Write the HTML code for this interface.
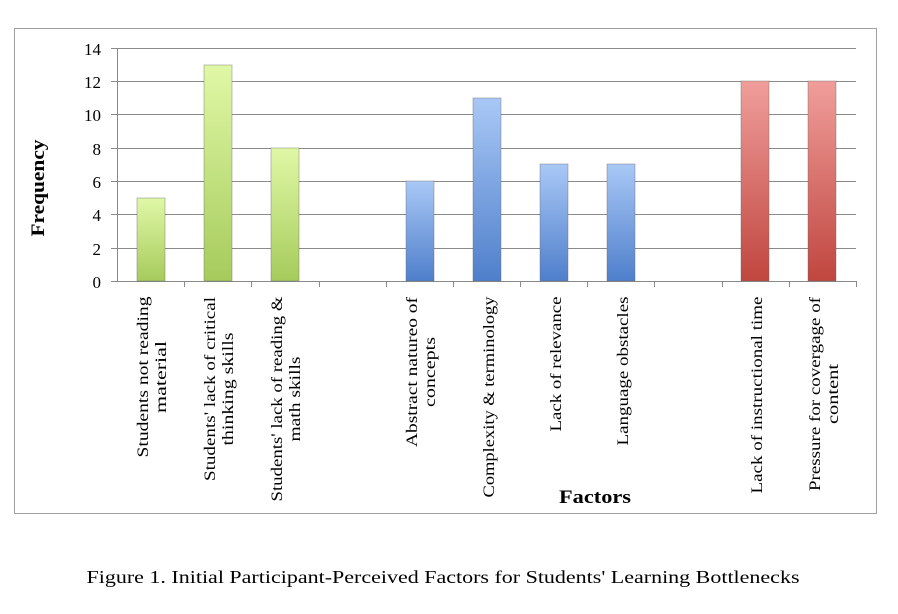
<!DOCTYPE html>
<html><head><meta charset="utf-8"><style>body{margin:0;background:#fff}svg{display:block}</style></head><body>
<svg width="898" height="614" xmlns="http://www.w3.org/2000/svg" font-family="'Liberation Serif',serif">
<defs>
<linearGradient id="g" x1="0" y1="0" x2="0" y2="1"><stop offset="0" stop-color="#e0f8a6"/><stop offset="1" stop-color="#a6cb5c"/></linearGradient>
<linearGradient id="b" x1="0" y1="0" x2="0" y2="1"><stop offset="0" stop-color="#a9c8f6"/><stop offset="1" stop-color="#4f7fcb"/></linearGradient>
<linearGradient id="r" x1="0" y1="0" x2="0" y2="1"><stop offset="0" stop-color="#f09e9b"/><stop offset="1" stop-color="#c0463f"/></linearGradient>
</defs>
<rect x="14.5" y="28.5" width="862" height="485" fill="#fff" stroke="#a0a0a0"/>
<g stroke="#8a8a8a" stroke-width="1">
<line x1="117" y1="48.5" x2="856" y2="48.5"/><line x1="117" y1="81.5" x2="856" y2="81.5"/><line x1="117" y1="114.5" x2="856" y2="114.5"/><line x1="117" y1="148.5" x2="856" y2="148.5"/><line x1="117" y1="181.5" x2="856" y2="181.5"/><line x1="117" y1="214.5" x2="856" y2="214.5"/><line x1="117" y1="248.5" x2="856" y2="248.5"/><line x1="111" y1="281.5" x2="856" y2="281.5"/>
<line x1="117.5" y1="48" x2="117.5" y2="281"/>
<line x1="111" y1="48.5" x2="117" y2="48.5"/><line x1="111" y1="81.5" x2="117" y2="81.5"/><line x1="111" y1="114.5" x2="117" y2="114.5"/><line x1="111" y1="148.5" x2="117" y2="148.5"/><line x1="111" y1="181.5" x2="117" y2="181.5"/><line x1="111" y1="214.5" x2="117" y2="214.5"/><line x1="111" y1="248.5" x2="117" y2="248.5"/>
<line x1="184.5" y1="281" x2="184.5" y2="287"/><line x1="251.5" y1="281" x2="251.5" y2="287"/><line x1="319.5" y1="281" x2="319.5" y2="287"/><line x1="386.5" y1="281" x2="386.5" y2="287"/><line x1="453.5" y1="281" x2="453.5" y2="287"/><line x1="520.5" y1="281" x2="520.5" y2="287"/><line x1="587.5" y1="281" x2="587.5" y2="287"/><line x1="654.5" y1="281" x2="654.5" y2="287"/><line x1="722.5" y1="281" x2="722.5" y2="287"/><line x1="789.5" y1="281" x2="789.5" y2="287"/><line x1="856.5" y1="281" x2="856.5" y2="287"/>
</g>
<g stroke-opacity="0.4" stroke="#666">
<rect x="137" y="198" width="28" height="83" fill="url(#g)"/>
<rect x="204" y="65" width="28" height="216" fill="url(#g)"/>
<rect x="271" y="148" width="28" height="133" fill="url(#g)"/>
<rect x="406" y="181" width="28" height="100" fill="url(#b)"/>
<rect x="473" y="98" width="28" height="183" fill="url(#b)"/>
<rect x="540" y="164" width="28" height="117" fill="url(#b)"/>
<rect x="607" y="164" width="28" height="117" fill="url(#b)"/>
<rect x="741" y="81" width="28" height="200" fill="url(#r)"/>
<rect x="808" y="81" width="28" height="200" fill="url(#r)"/>
</g>
<g font-size="17" text-anchor="end" fill="#000">
<text x="101" y="55">14</text><text x="101" y="88">12</text><text x="101" y="121">10</text><text x="101" y="155">8</text><text x="101" y="188">6</text><text x="101" y="221">4</text><text x="101" y="255">2</text><text x="101" y="288">0</text>
</g>
<text transform="translate(44,188) rotate(-90)" font-size="19" font-weight="bold" text-anchor="middle" textLength="97" lengthAdjust="spacingAndGlyphs">Frequency</text>
<g font-size="16" text-anchor="middle">
<text transform="translate(148,377) rotate(-90)" textLength="161" lengthAdjust="spacingAndGlyphs">Students not reading</text>
<text transform="translate(166,377) rotate(-90)" textLength="72" lengthAdjust="spacingAndGlyphs">material</text>
<text transform="translate(215,389) rotate(-90)" textLength="184" lengthAdjust="spacingAndGlyphs">Students' lack of critical</text>
<text transform="translate(233,389) rotate(-90)" textLength="113" lengthAdjust="spacingAndGlyphs">thinking skills</text>
<text transform="translate(282,399) rotate(-90)" textLength="205" lengthAdjust="spacingAndGlyphs">Students' lack of reading &amp;</text>
<text transform="translate(300,399) rotate(-90)" textLength="85" lengthAdjust="spacingAndGlyphs">math skills</text>
<text transform="translate(417,372) rotate(-90)" textLength="150" lengthAdjust="spacingAndGlyphs">Abstract natureo of</text>
<text transform="translate(435,372) rotate(-90)" textLength="70" lengthAdjust="spacingAndGlyphs">concepts</text>
<text transform="translate(494,397) rotate(-90)" textLength="201" lengthAdjust="spacingAndGlyphs">Complexity &amp; terminology</text>
<text transform="translate(561,364) rotate(-90)" textLength="135" lengthAdjust="spacingAndGlyphs">Lack of relevance</text>
<text transform="translate(628,371) rotate(-90)" textLength="149" lengthAdjust="spacingAndGlyphs">Language obstacles</text>
<text transform="translate(762,395) rotate(-90)" textLength="197" lengthAdjust="spacingAndGlyphs">Lack of instructional time</text>
<text transform="translate(820,394) rotate(-90)" textLength="194" lengthAdjust="spacingAndGlyphs">Pressure for covergage of</text>
<text transform="translate(838,394) rotate(-90)" textLength="60" lengthAdjust="spacingAndGlyphs">content</text>
</g>
<text x="595" y="503" font-size="19" font-weight="bold" text-anchor="middle" textLength="72" lengthAdjust="spacingAndGlyphs">Factors</text>
<text x="443" y="583" font-size="18" text-anchor="middle" textLength="713" lengthAdjust="spacingAndGlyphs">Figure 1. Initial Participant-Perceived Factors for Students' Learning Bottlenecks</text>
</svg>
</body></html>
